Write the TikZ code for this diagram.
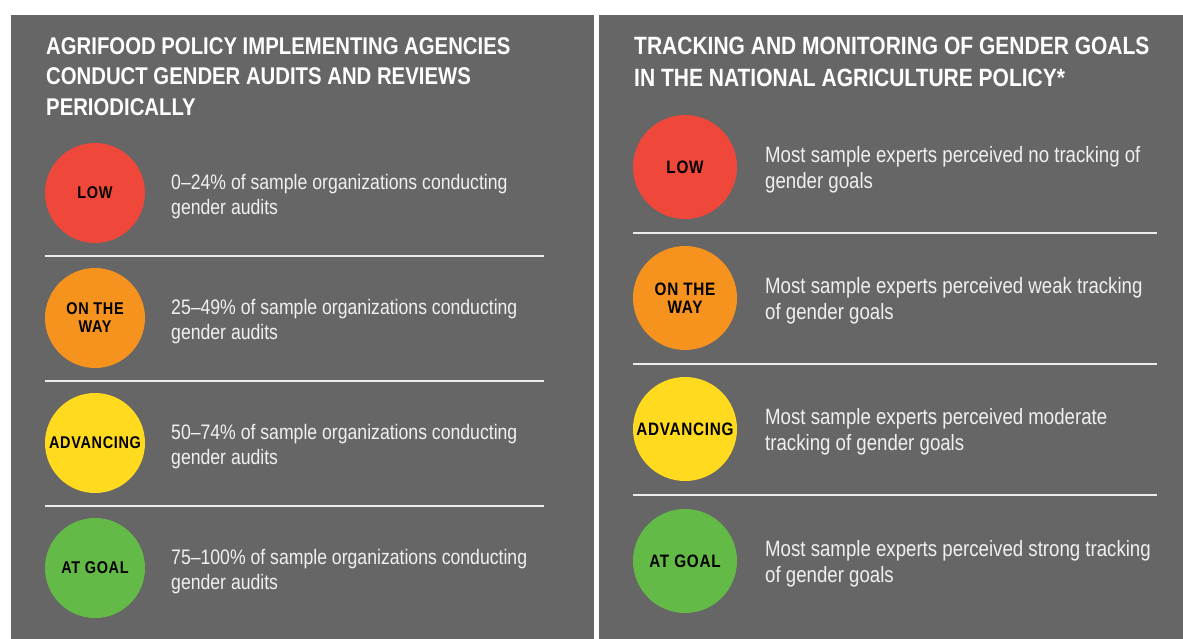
\documentclass[tikz,border=0pt]{standalone}
\usepackage{fontspec}
\setmainfont{Liberation Sans}
\newfontfamily\condsans[FakeStretch=0.84]{Liberation Sans}
\newfontfamily\labsans[FakeStretch=0.85,LetterSpace=4]{Liberation Sans}
\definecolor{panel}{RGB}{102,102,102}
\definecolor{lowred}{RGB}{239,71,58}
\definecolor{wayorange}{RGB}{246,146,30}
\definecolor{advyellow}{RGB}{255,218,30}
\definecolor{goalgreen}{RGB}{99,186,71}
\definecolor{bodytext}{RGB}{240,240,240}
\definecolor{sepline}{RGB}{236,236,236}
\tikzset{
  panelbox/.style={fill=panel, draw=none},
  ttlL/.style={anchor=base west, inner sep=0pt, text=white, font=\condsans\bfseries\fontsize{24.2}{30}\selectfont},
  ttlR/.style={anchor=base west, inner sep=0pt, text=white, font=\condsans\bfseries\fontsize{25}{32}\selectfont},
  bodyL/.style={anchor=base west, inner sep=0pt, text=bodytext, font=\condsans\fontsize{21}{25}\selectfont},
  bodyR/.style={anchor=base west, inner sep=0pt, text=bodytext, font=\condsans\fontsize{22.2}{26}\selectfont},
  dotL/.style={circle, draw=none, inner sep=0pt, minimum size=100pt, align=center, text=black, font=\labsans\bfseries\fontsize{17}{18}\selectfont},
  dotR/.style={circle, draw=none, inner sep=0pt, minimum size=104pt, align=center, text=black, font=\labsans\bfseries\fontsize{18}{18}\selectfont},
  sep/.style={draw=sepline, line width=2.5pt}
}
\begin{document}
\begin{tikzpicture}[x=1pt,y=-1pt]
\useasboundingbox (0,0) rectangle (1183,639);
\fill[white] (0,0) rectangle (1183,639);
% panels
\fill[panelbox] (11,15) rectangle (594,639);
\fill[panelbox] (599,15) rectangle (1183,639);

% ---------- left panel ----------
\node[ttlL] (lt1) at (46,54.3) {AGRIFOOD POLICY IMPLEMENTING AGENCIES};
\node[ttlL] (lt2) at (46,85) {CONDUCT GENDER AUDITS AND REVIEWS};
\node[ttlL] (lt3) at (46,115.7) {PERIODICALLY};

\node[dotL, fill=lowred]     (lc1) at (95,193) {LOW};
\node[dotL, fill=wayorange]  (lc2) at (95,318) {ON THE\\WAY};
\node[dotL, fill=advyellow]  (lc3) at (95,443) {ADVANCING};
\node[dotL, fill=goalgreen]  (lc4) at (95,568) {AT GOAL};

\node[bodyL] (la1) at (171,189.5) {0–24\% of sample organizations conducting};
\node[bodyL] (lb1) at (171,214.5) {gender audits};
\node[bodyL] (la2) at (171,314.5) {25–49\% of sample organizations conducting};
\node[bodyL] (lb2) at (171,339.5) {gender audits};
\node[bodyL] (la3) at (171,439.5) {50–74\% of sample organizations conducting};
\node[bodyL] (lb3) at (171,464.5) {gender audits};
\node[bodyL] (la4) at (171,564.5) {75–100\% of sample organizations conducting};
\node[bodyL] (lb4) at (171,589.5) {gender audits};

\coordinate (ls1a) at (45,256);  \coordinate (ls1b) at (544,256);
\coordinate (ls2a) at (45,381);  \coordinate (ls2b) at (544,381);
\coordinate (ls3a) at (45,506);  \coordinate (ls3b) at (544,506);
\draw[sep] (ls1a) -- (ls1b);
\draw[sep] (ls2a) -- (ls2b);
\draw[sep] (ls3a) -- (ls3b);

% ---------- right panel ----------
\node[ttlR] (rt1) at (634,54.5) {TRACKING AND MONITORING OF GENDER GOALS};
\node[ttlR] (rt2) at (634,86.5) {IN THE NATIONAL AGRICULTURE POLICY*};

\node[dotR, fill=lowred]     (rc1) at (685,167) {LOW};
\node[dotR, fill=wayorange]  (rc2) at (685,298) {ON THE\\WAY};
\node[dotR, fill=advyellow]  (rc3) at (685,429) {ADVANCING};
\node[dotR, fill=goalgreen]  (rc4) at (685,561) {AT GOAL};

\node[bodyR] (ra1) at (765,162.7) {Most sample experts perceived no tracking of};
\node[bodyR] (rb1) at (765,188.7) {gender goals};
\node[bodyR] (ra2) at (765,293.7) {Most sample experts perceived weak tracking};
\node[bodyR] (rb2) at (765,319.7) {of gender goals};
\node[bodyR] (ra3) at (765,424.7) {Most sample experts perceived moderate};
\node[bodyR] (rb3) at (765,450.7) {tracking of gender goals};
\node[bodyR] (ra4) at (765,556.7) {Most sample experts perceived strong tracking};
\node[bodyR] (rb4) at (765,582.7) {of gender goals};

\coordinate (rs1a) at (633,233);  \coordinate (rs1b) at (1157,233);
\coordinate (rs2a) at (633,364);  \coordinate (rs2b) at (1157,364);
\coordinate (rs3a) at (633,495);  \coordinate (rs3b) at (1157,495);
\draw[sep] (rs1a) -- (rs1b);
\draw[sep] (rs2a) -- (rs2b);
\draw[sep] (rs3a) -- (rs3b);
\end{tikzpicture}
\end{document}
